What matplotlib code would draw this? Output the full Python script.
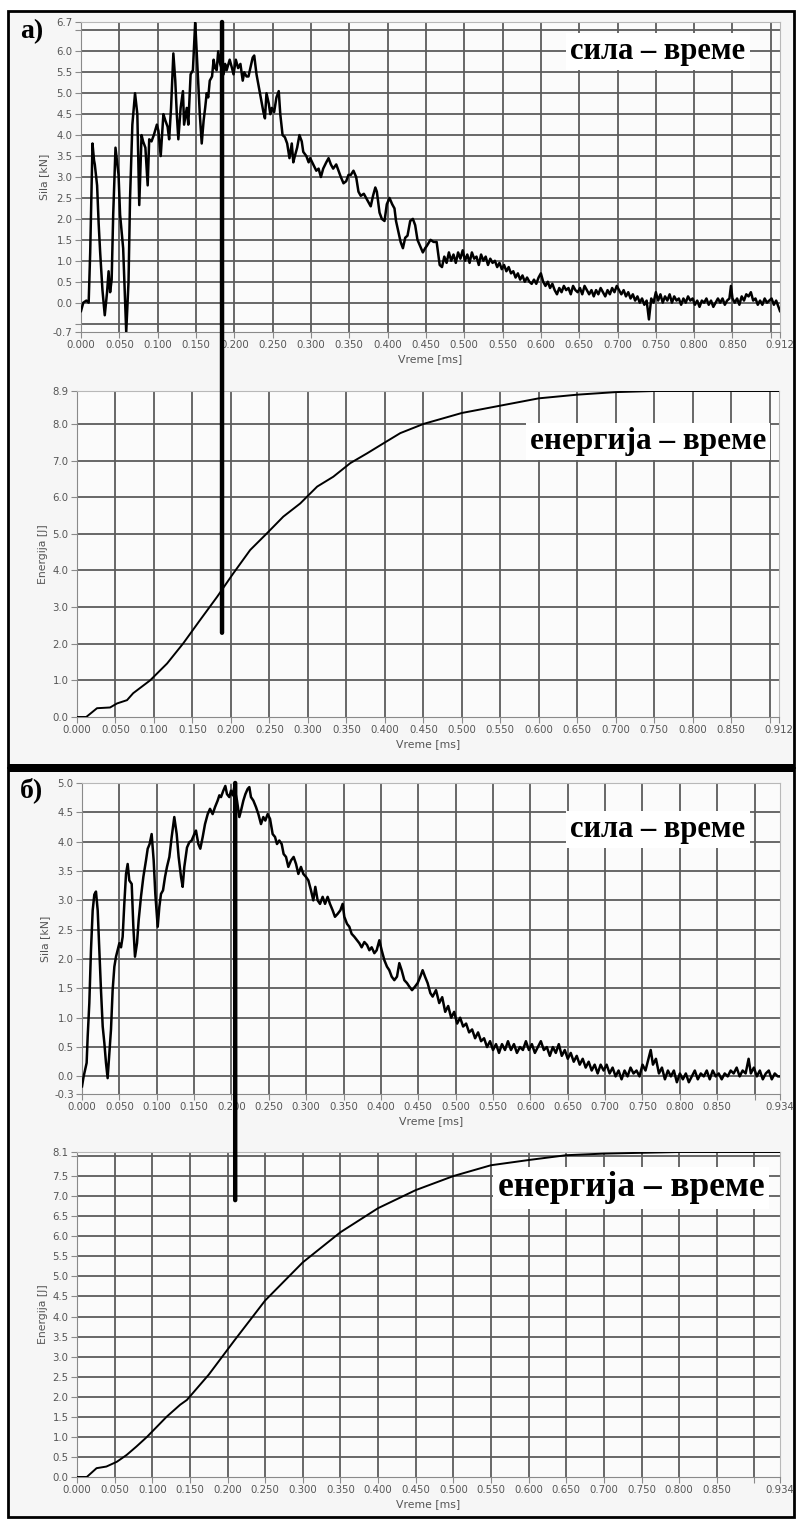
import matplotlib
matplotlib.use("Agg")
import matplotlib.pyplot as plt
from matplotlib.patches import Rectangle, ConnectionPatch
from matplotlib.transforms import blended_transform_factory
from matplotlib.ticker import FixedLocator, FixedFormatter, NullFormatter

# ---------------- data ----------------
# Panel а: force (kN) vs time (ms)
t_force_a = [0.000, 0.003, 0.007, 0.010, 0.012, 0.014, 0.015, 0.017, 0.018, 0.021, 0.023, 0.025,
             0.028, 0.031, 0.034, 0.036, 0.038, 0.040, 0.042, 0.045, 0.049, 0.051, 0.055, 0.059,
             0.062, 0.064, 0.067, 0.0705, 0.0735, 0.076, 0.079, 0.081, 0.084, 0.087, 0.089, 0.092,
             0.095, 0.099, 0.101, 0.104, 0.1075, 0.110, 0.113, 0.115, 0.1175, 0.1205, 0.123, 0.125,
             0.127, 0.130, 0.133, 0.1345, 0.138, 0.140, 0.143, 0.146, 0.149, 0.151, 0.153, 0.155,
             0.1575, 0.160, 0.162, 0.164, 0.166, 0.168, 0.171, 0.173, 0.175, 0.177, 0.179, 0.1815,
             0.186, 0.188, 0.190, 0.194, 0.197, 0.199, 0.202, 0.205, 0.208, 0.211, 0.213, 0.216,
             0.2185, 0.221, 0.224, 0.226, 0.229, 0.233, 0.236, 0.238, 0.240, 0.242, 0.245, 0.247,
             0.249, 0.252, 0.255, 0.258, 0.260, 0.263, 0.266, 0.269, 0.272, 0.275, 0.277, 0.279,
             0.282, 0.285, 0.288, 0.290, 0.294, 0.297, 0.299, 0.303, 0.307, 0.310, 0.313, 0.316,
             0.320, 0.323, 0.326, 0.329, 0.333, 0.336, 0.339, 0.3425, 0.346, 0.349, 0.352, 0.3555,
             0.359, 0.362, 0.365, 0.369, 0.372, 0.375, 0.378, 0.381, 0.384, 0.386, 0.3895, 0.3925,
             0.396, 0.399, 0.4025, 0.406, 0.409, 0.411, 0.414, 0.417, 0.420, 0.423, 0.426, 0.4295,
             0.433, 0.436, 0.439, 0.4425, 0.446, 0.449, 0.451, 0.456, 0.460, 0.464,
             0.468, 0.471, 0.474, 0.477, 0.480, 0.483, 0.486, 0.489, 0.492, 0.495, 0.498, 0.501,
             0.504, 0.507, 0.510, 0.513, 0.516, 0.519, 0.522, 0.525, 0.528, 0.531, 0.534, 0.537,
             0.540, 0.543, 0.546, 0.549, 0.552, 0.555, 0.558, 0.561, 0.564, 0.567, 0.570, 0.573,
             0.576, 0.579, 0.582, 0.585, 0.588, 0.591, 0.594, 0.597, 0.600, 0.603, 0.606, 0.609,
             0.612, 0.615, 0.618, 0.621, 0.624, 0.627, 0.630, 0.633, 0.636, 0.639, 0.642, 0.645,
             0.648, 0.651, 0.654, 0.657, 0.660, 0.663, 0.666, 0.669, 0.672, 0.675, 0.678, 0.681,
             0.684, 0.687, 0.690, 0.693, 0.696, 0.699, 0.702, 0.705, 0.708, 0.711, 0.714, 0.717,
             0.720, 0.723, 0.726, 0.729, 0.732, 0.735, 0.738, 0.741, 0.744, 0.747, 0.750, 0.753,
             0.756, 0.759, 0.762, 0.765, 0.768, 0.771, 0.774, 0.777, 0.780, 0.783, 0.786, 0.789,
             0.792, 0.795, 0.798, 0.801, 0.804, 0.807, 0.810, 0.813, 0.816, 0.819, 0.822, 0.825,
             0.828, 0.831, 0.834, 0.837, 0.840, 0.843, 0.846, 0.848, 0.850, 0.853, 0.856, 0.859,
             0.862, 0.865, 0.868, 0.871, 0.874, 0.877, 0.880, 0.883, 0.886, 0.889, 0.892, 0.895,
             0.898, 0.901, 0.904, 0.907, 0.910, 0.912]
force_a = [-0.20, 0.00, 0.05, 0.00, 1.20, 2.90, 3.80, 3.40, 3.30, 2.80, 1.90, 1.20,
           0.30, -0.30, 0.25, 0.75, 0.25, 0.55, 2.10, 3.70, 3.05, 2.10, 1.30, -0.70,
           0.50, 2.50, 4.25, 5.00, 4.50, 2.33, 4.00, 3.85, 3.70, 2.80, 3.90, 3.85,
           4.00, 4.25, 4.10, 3.50, 4.50, 4.35, 4.20, 3.90, 4.65, 5.95, 5.30, 4.50,
           3.90, 4.65, 5.05, 4.25, 4.65, 4.25, 5.45, 5.55, 6.70, 5.95, 5.15, 4.50,
           3.80, 4.35, 4.65, 5.00, 4.90, 5.30, 5.40, 5.80, 5.60, 5.55, 6.00, 5.70,
           5.45, 5.70, 5.55, 5.80, 5.60, 5.45, 5.80, 5.60, 5.70, 5.30, 5.50, 5.40,
           5.40, 5.60, 5.85, 5.90, 5.45, 5.05, 4.75, 4.55, 4.40, 5.00, 4.75, 4.50,
           4.65, 4.55, 4.90, 5.05, 4.50, 4.00, 3.95, 3.80, 3.45, 3.80, 3.35, 3.50,
           3.70, 4.00, 3.85, 3.60, 3.50, 3.35, 3.45, 3.30, 3.15, 3.20, 3.00, 3.20,
           3.35, 3.45, 3.30, 3.20, 3.30, 3.15, 3.00, 2.85, 2.90, 3.05, 3.05, 3.15,
           3.00, 2.65, 2.55, 2.60, 2.50, 2.40, 2.30, 2.55, 2.75, 2.65, 2.15, 2.00,
           1.95, 2.35, 2.50, 2.35, 2.25, 1.95, 1.70, 1.45, 1.30, 1.55, 1.60, 1.95,
           2.00, 1.85, 1.50, 1.35, 1.20, 1.30, 1.35, 1.50, 1.45, 1.45,
           0.90, 0.85, 1.10, 0.95, 1.20, 1.00, 1.15, 0.95, 1.20, 1.05, 1.25, 1.00,
           1.15, 0.95, 1.20, 1.05, 1.10, 0.90, 1.15, 1.00, 1.10, 0.90, 1.05, 0.95,
           1.00, 0.85, 0.95, 0.80, 0.90, 0.75, 0.85, 0.70, 0.75, 0.60, 0.70, 0.55,
           0.65, 0.50, 0.60, 0.50, 0.45, 0.55, 0.45, 0.60, 0.70, 0.50, 0.40, 0.50,
           0.35, 0.45, 0.30, 0.20, 0.35, 0.25, 0.40, 0.30, 0.35, 0.20, 0.40, 0.30,
           0.25, 0.35, 0.20, 0.40, 0.30, 0.20, 0.30, 0.15, 0.30, 0.20, 0.35, 0.25,
           0.15, 0.30, 0.20, 0.35, 0.25, 0.40, 0.30, 0.20, 0.30, 0.15, 0.25, 0.10,
           0.20, 0.05, 0.15, 0.00, 0.10, -0.05, 0.05, -0.40, 0.10, 0.00, 0.25, 0.05,
           0.20, 0.00, 0.15, 0.05, 0.20, 0.00, 0.15, 0.05, 0.10, -0.05, 0.10, 0.00,
           0.15, 0.05, 0.10, -0.05, 0.05, -0.10, 0.05, 0.00, 0.10, -0.05, 0.05, -0.10,
           0.00, 0.10, 0.00, 0.10, -0.05, 0.05, 0.10, 0.40, 0.10, 0.00, 0.10, -0.05,
           0.15, 0.05, 0.20, 0.15, 0.25, 0.05, 0.10, -0.05, 0.05, -0.05, 0.10, 0.00,
           0.05, 0.10, -0.05, 0.05, -0.10, -0.20]

# Panel а: energy (J) vs time (ms)
t_energy_a = [0.000, 0.012, 0.026, 0.043, 0.052, 0.065, 0.073, 0.095, 0.117, 0.138, 0.160,
              0.182, 0.203, 0.225, 0.247, 0.268, 0.290, 0.312, 0.333, 0.355, 0.377, 0.398,
              0.420, 0.450, 0.500, 0.550, 0.600, 0.650, 0.700, 0.750, 0.912]
energy_a = [0.00, 0.00, 0.24, 0.26, 0.37, 0.46, 0.65, 1.00, 1.46, 2.01, 2.65,
            3.28, 3.92, 4.56, 5.02, 5.47, 5.83, 6.29, 6.56, 6.93, 7.20, 7.47,
            7.75, 8.00, 8.30, 8.50, 8.70, 8.80, 8.87, 8.90, 8.90]

# Panel б: force (kN) vs time (ms)
t_force_b = [0.0000, 0.0022, 0.0040, 0.0062, 0.0076, 0.0098, 0.0120, 0.0143, 0.0165, 0.0187,
             0.0210, 0.0232, 0.0254, 0.0277, 0.0299, 0.0321, 0.0343, 0.0366, 0.0388, 0.0410,
             0.0433, 0.0455, 0.0477, 0.0500, 0.0522, 0.0544, 0.0566, 0.0589, 0.0611, 0.0633,
             0.0665, 0.0687, 0.0709, 0.0736, 0.0758, 0.0789, 0.0821, 0.0856, 0.0879, 0.0905,
             0.0932, 0.0959, 0.0981, 0.1013, 0.1035, 0.1057, 0.1084, 0.1111, 0.1137, 0.1169,
             0.1200, 0.1235, 0.1267, 0.1293, 0.1325, 0.1347, 0.1369, 0.1405, 0.1436, 0.1467,
             0.1503, 0.1525, 0.1557, 0.1583, 0.1615, 0.1646, 0.1682, 0.1713, 0.1748, 0.1780,
             0.1815, 0.1838, 0.1860, 0.1891, 0.1918, 0.1940, 0.1971, 0.1994, 0.2016, 0.2038,
             0.2074, 0.2105, 0.2128, 0.2159, 0.2186, 0.2217, 0.2239, 0.2261, 0.2293, 0.2328,
             0.2360, 0.2395, 0.2426, 0.2453, 0.2484, 0.2516, 0.2551, 0.2583, 0.2609, 0.2640,
             0.2672, 0.2698, 0.2730, 0.2761, 0.2797, 0.2832, 0.2864, 0.2895, 0.2930, 0.2962,
             0.2997, 0.3029, 0.3064, 0.3095, 0.3122, 0.3153, 0.3185, 0.3220, 0.3252, 0.3287,
             0.3318, 0.3354, 0.3385, 0.3421, 0.3457, 0.3488, 0.3510, 0.3546, 0.3577, 0.3608,
             0.3644, 0.3680, 0.3711, 0.3742, 0.3778, 0.3814, 0.3845, 0.3876, 0.3912, 0.3943,
             0.3979, 0.4010, 0.4046, 0.4081, 0.4112, 0.4144, 0.4179, 0.4215, 0.4246, 0.4277,
             0.4313, 0.4349, 0.4380, 0.4416, 0.4456, 0.4491, 0.4527, 0.4558, 0.4590, 0.4625,
             0.4661, 0.4692, 0.4737,
             0.478, 0.482, 0.486, 0.490, 0.494, 0.498, 0.502, 0.506, 0.510, 0.514, 0.518, 0.522,
             0.526, 0.530, 0.534, 0.538, 0.542, 0.546, 0.550, 0.554, 0.558, 0.562, 0.566, 0.570,
             0.574, 0.578, 0.582, 0.586, 0.590, 0.594, 0.598, 0.602, 0.606, 0.610, 0.614, 0.618,
             0.622, 0.626, 0.630, 0.634, 0.638, 0.642, 0.646, 0.650, 0.654, 0.658, 0.662, 0.666,
             0.670, 0.674, 0.678, 0.682, 0.686, 0.690, 0.694, 0.698, 0.702, 0.706, 0.710, 0.714,
             0.718, 0.722, 0.726, 0.730, 0.734, 0.738, 0.742, 0.746, 0.750, 0.754, 0.758, 0.761,
             0.764, 0.768, 0.772, 0.776, 0.780, 0.784, 0.788, 0.792, 0.796, 0.800, 0.804, 0.808,
             0.812, 0.816, 0.820, 0.824, 0.828, 0.832, 0.836, 0.840, 0.844, 0.848, 0.852, 0.856,
             0.860, 0.864, 0.868, 0.872, 0.876, 0.880, 0.884, 0.888, 0.892, 0.895, 0.899, 0.903,
             0.907, 0.911, 0.915, 0.919, 0.923, 0.927, 0.931, 0.934]
force_b = [-0.17, 0.00, 0.10, 0.23, 0.68, 1.25, 2.15, 2.83, 3.10, 3.15,
           2.83, 2.15, 1.47, 0.85, 0.57, 0.23, -0.03, 0.40, 0.80, 1.47,
           1.87, 2.04, 2.15, 2.27, 2.20, 2.38, 2.94, 3.45, 3.62, 3.34,
           3.28, 2.55, 2.04, 2.27, 2.66, 3.06, 3.40, 3.68, 3.88, 3.96,
           4.13, 3.68, 3.11, 2.55, 2.89, 3.11, 3.17, 3.40, 3.57, 3.74,
           4.08, 4.42, 4.13, 3.74, 3.40, 3.23, 3.57, 3.90, 3.99, 4.02,
           4.13, 4.19, 3.96, 3.88, 4.08, 4.30, 4.47, 4.56, 4.47, 4.59,
           4.70, 4.79, 4.76, 4.87, 4.95, 4.81, 4.76, 4.87, 4.79, 4.93,
           4.70, 4.42, 4.53, 4.70, 4.81, 4.90, 4.93, 4.76, 4.70, 4.59,
           4.47, 4.30, 4.42, 4.36, 4.47, 4.39, 4.13, 4.08, 3.96, 4.02,
           3.96, 3.79, 3.74, 3.57, 3.68, 3.74, 3.62, 3.45, 3.57, 3.45,
           3.40, 3.34, 3.17, 3.00, 3.23, 3.00, 2.94, 3.06, 2.94, 3.06,
           2.94, 2.83, 2.72, 2.77, 2.83, 2.94, 2.72, 2.60, 2.55, 2.43,
           2.38, 2.32, 2.27, 2.20, 2.29, 2.24, 2.15, 2.20, 2.10, 2.15,
           2.32, 2.15, 1.98, 1.87, 1.81, 1.70, 1.64, 1.70, 1.93, 1.81,
           1.64, 1.59, 1.53, 1.47, 1.53, 1.59, 1.70, 1.81, 1.70, 1.59,
           1.42, 1.36, 1.47,
           1.25, 1.35, 1.10, 1.20, 1.00, 1.10, 0.90, 1.00, 0.85, 0.90, 0.75, 0.80,
           0.65, 0.75, 0.60, 0.65, 0.50, 0.60, 0.45, 0.55, 0.40, 0.55, 0.45, 0.60,
           0.45, 0.55, 0.40, 0.50, 0.45, 0.60, 0.45, 0.55, 0.40, 0.50, 0.60, 0.45,
           0.50, 0.35, 0.50, 0.40, 0.55, 0.35, 0.45, 0.30, 0.40, 0.25, 0.35, 0.20,
           0.30, 0.15, 0.25, 0.10, 0.20, 0.05, 0.20, 0.10, 0.20, 0.05, 0.15, 0.00,
           0.10, -0.05, 0.10, 0.00, 0.15, 0.05, 0.10, 0.00, 0.20, 0.10, 0.30, 0.45,
           0.20, 0.30, 0.05, 0.15, -0.05, 0.10, 0.00, 0.10, -0.10, 0.05, -0.05, 0.05,
           -0.10, 0.00, 0.10, -0.05, 0.05, 0.00, 0.10, -0.05, 0.10, 0.00, 0.05, -0.05,
           0.05, 0.00, 0.10, 0.05, 0.15, 0.00, 0.10, 0.05, 0.30, 0.05, 0.15, 0.00,
           0.10, -0.05, 0.05, 0.10, -0.05, 0.05, 0.00, 0.00]

# Panel б: energy (J) vs time (ms)
t_energy_b = [0.000, 0.013, 0.026, 0.039, 0.053, 0.066, 0.079, 0.093, 0.106, 0.119, 0.137,
              0.146, 0.175, 0.209, 0.250, 0.300, 0.350, 0.400, 0.450, 0.500, 0.550, 0.600,
              0.650, 0.700, 0.750, 0.800, 0.934]
energy_b = [0.00, 0.00, 0.22, 0.26, 0.38, 0.55, 0.76, 1.00, 1.25, 1.50, 1.80,
            1.92, 2.55, 3.40, 4.40, 5.35, 6.10, 6.70, 7.15, 7.50, 7.77, 7.90,
            8.02, 8.06, 8.08, 8.10, 8.10]

# cursor positions (ms) and where the cursor ends on the energy axis (J)
cursor_a, cursor_a_end = 0.184, 2.30
cursor_b, cursor_b_end = 0.205, 6.90

# axis limits / ticks
tmax_a, tmax_b = 0.912, 0.934
xticks_a = [0.0, 0.05, 0.1, 0.15, 0.2, 0.25, 0.3, 0.35, 0.4, 0.45, 0.5, 0.55, 0.6,
            0.65, 0.7, 0.75, 0.8, 0.85, 0.9]
force_lim_a, force_lim_b = (-0.7, 6.7), (-0.3, 5.0)
energy_lim_a, energy_lim_b = (0.0, 8.9), (0.0, 8.1)

# ---------------- layout ----------------
W, H = 797, 1520
fig = plt.figure(figsize=(W / 100, H / 100), dpi=100)
fig.patch.set_facecolor("white")

def rect(l, t, r, b):
    return [l / W, 1 - b / H, (r - l) / W, (b - t) / H]

PANEL_BG = "#f6f6f6"
GRID = "#5c5c5c"
TXT = "#555555"

# panel backgrounds + frames
for (l, t, r, b) in [(8, 11, 794, 767), (8, 768, 794, 1517)]:
    fig.add_artist(Rectangle((l / W, 1 - b / H), (r - l) / W, (b - t) / H,
                             transform=fig.transFigure, facecolor=PANEL_BG,
                             edgecolor="black", lw=2.0, zorder=0))
fig.add_artist(Rectangle((8 / W, 1 - 772 / H), (794 - 8) / W, 8 / H,
                         transform=fig.transFigure, facecolor="black",
                         edgecolor="none", zorder=5))


def fmt(v, nd):
    return f"{v:.{nd}f}"


def setup(ax, tmax, ylim, ylab_vals, ygrid_vals, ylabel):
    ax.set_facecolor("#fbfbfb")
    ax.set_xlim(0, tmax)
    ax.set_ylim(*ylim)
    for s in ax.spines.values():
        s.set_color("#b8b8b8")
        s.set_linewidth(0.8)
    ax.spines["left"].set_color("#8a8a8a")
    ax.spines["bottom"].set_color("#8a8a8a")
    # grid
    for gx in xticks_a:
        if 0 < gx < tmax:
            ax.axvline(gx, color=GRID, lw=1.3, zorder=1)
    for gy in ygrid_vals:
        if ylim[0] < gy < ylim[1]:
            ax.axhline(gy, color=GRID, lw=1.3, zorder=1)
    # x ticks
    xt = xticks_a + [tmax]
    xl = [fmt(v, 3) if abs(v - 0.9) > 1e-9 else "" for v in xticks_a] + [fmt(tmax, 3)]
    ax.xaxis.set_major_locator(FixedLocator(xt))
    ax.xaxis.set_major_formatter(FixedFormatter(xl))
    # y ticks
    ax.yaxis.set_major_locator(FixedLocator(ylab_vals))
    ax.yaxis.set_major_formatter(FixedFormatter([fmt(v, 1) for v in ylab_vals]))
    minor = [g for g in ygrid_vals if g not in ylab_vals and ylim[0] < g < ylim[1]]
    ax.yaxis.set_minor_locator(FixedLocator(minor))
    ax.yaxis.set_minor_formatter(NullFormatter())
    ax.tick_params(axis="both", which="both", direction="out", length=4, width=0.8,
                   color="#8a8a8a", labelcolor=TXT, labelsize=7.3, pad=2)
    ax.set_xlabel("Vreme [ms]", color=TXT, fontsize=7.8, labelpad=3)
    ax.set_ylabel(ylabel, color=TXT, fontsize=7.8, labelpad=3)


def steps(a, b, s):
    out, v = [], a
    while v <= b + 1e-9:
        out.append(round(v, 2))
        v += s
    return out


ax_fa = fig.add_axes(rect(81, 22, 780, 332))
setup(ax_fa, tmax_a, force_lim_a, [-0.7] + steps(0.0, 6.0, 0.5) + [6.7],
      steps(-0.5, 6.5, 0.5), "Sila [kN]")
ax_fa.plot(t_force_a, force_a, color="black", lw=1.8, zorder=3)

ax_ea = fig.add_axes(rect(77, 391, 779, 717))
setup(ax_ea, tmax_a, energy_lim_a, steps(0.0, 8.0, 1.0) + [8.9],
      steps(1.0, 8.0, 1.0), "Energija [J]")
ax_ea.plot(t_energy_a, energy_a, color="black", lw=1.4, zorder=3)

ax_fb = fig.add_axes(rect(82, 783, 780, 1094))
setup(ax_fb, tmax_b, force_lim_b, [-0.3] + steps(0.0, 5.0, 0.5),
      steps(0.0, 4.5, 0.5), "Sila [kN]")
ax_fb.plot(t_force_b, force_b, color="black", lw=1.8, zorder=3)

ax_eb = fig.add_axes(rect(77, 1152, 780, 1477))
setup(ax_eb, tmax_b, energy_lim_b, steps(0.0, 7.5, 0.5) + [8.1],
      steps(0.5, 8.0, 0.5), "Energija [J]")
ax_eb.plot(t_energy_b, energy_b, color="black", lw=1.4, zorder=3)

# cursors spanning force and energy plots
for axf, axe, tc, yend in [(ax_fa, ax_ea, cursor_a, cursor_a_end),
                           (ax_fb, ax_eb, cursor_b, cursor_b_end)]:
    blend = blended_transform_factory(axf.transData, axe.transData)
    cp = ConnectionPatch(xyA=(tc, axf.get_ylim()[1]), coordsA=axf.transData,
                         xyB=(tc, yend), coordsB=blend, color="black", lw=3.2,
                         zorder=10)
    fig.add_artist(cp)

# titles inside plots
serif = ["Liberation Serif", "DejaVu Serif"]
box = dict(facecolor="white", edgecolor="none", pad=3)
ax_fa.text(0.825, 0.905, "сила – време", transform=ax_fa.transAxes, ha="center",
           va="center", fontsize=22, fontweight="bold", family=serif, bbox=box, zorder=6)
ax_ea.text(0.813, 0.845, "енергија – време", transform=ax_ea.transAxes, ha="center",
           va="center", fontsize=22.5, fontweight="bold", family=serif, bbox=box, zorder=6)
ax_fb.text(0.825, 0.85, "сила – време", transform=ax_fb.transAxes, ha="center",
           va="center", fontsize=22, fontweight="bold", family=serif, bbox=box, zorder=6)
ax_eb.text(0.788, 0.89, "енергија – време", transform=ax_eb.transAxes, ha="center",
           va="center", fontsize=25.5, fontweight="bold", family=serif, bbox=box, zorder=6)

# panel letters
fig.text(20 / W, 1 - 32 / H, "а)", fontsize=20, fontweight="bold", family=serif,
         va="center", ha="left")
fig.text(20 / W, 1 - 790 / H, "б)", fontsize=20, fontweight="bold", family=serif,
         va="center", ha="left")

fig.savefig("out.png", dpi=100)
